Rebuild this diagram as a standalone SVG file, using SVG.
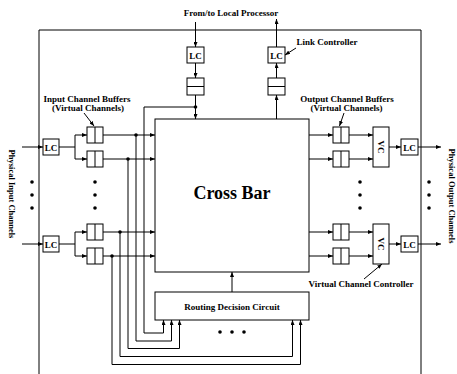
<svg xmlns="http://www.w3.org/2000/svg" width="457" height="374" viewBox="0 0 457 374">
<style>
text{font-family:"Liberation Serif","Times New Roman",serif;font-weight:bold;font-size:9px;fill:#000}
.m{text-anchor:middle}
.side{font-size:8.5px}
.box{fill:#fff;stroke:#000;stroke-width:1}
.ln{fill:none;stroke:#000;stroke-width:1}
.ar{fill:none;stroke:#000;stroke-width:1;marker-end:url(#ah)}
.dot{fill:#000}
</style>
<defs>
<marker id="ah" markerWidth="5" markerHeight="4" refX="5" refY="2" orient="auto" markerUnits="userSpaceOnUse"><path d="M0,0 L5,2 L0,4 z" fill="#000"/></marker>
</defs>
<rect width="457" height="374" fill="#fff"/>
<path id="router-frame" class="ln" d="M39,374 V30 H421 V374"/>

<g id="connectors">
<!-- local processor in -->
<line class="ar" x1="195.5" y1="22" x2="195.5" y2="47"/>
<line class="ar" x1="195.5" y1="63" x2="195.5" y2="78"/>
<line class="ar" x1="195.5" y1="95" x2="195.5" y2="119"/>
<path class="ar" d="M195.5,107 H144 V333 H163.5 V320"/>
<!-- local processor out -->
<line class="ar" x1="276.5" y1="119" x2="276.5" y2="95"/>
<line class="ar" x1="276.5" y1="78" x2="276.5" y2="63"/>
<line class="ar" x1="276.5" y1="47" x2="276.5" y2="19"/>
<!-- input group 1 -->
<line class="ar" x1="22" y1="147" x2="43" y2="147"/>
<path class="ln" d="M59,147 H75 M75,135 V159"/>
<line class="ar" x1="75" y1="135" x2="87" y2="135"/>
<line class="ar" x1="75" y1="159" x2="87" y2="159"/>
<line class="ar" x1="103" y1="135" x2="155" y2="135"/>
<line class="ar" x1="103" y1="159" x2="155" y2="159"/>
<path class="ar" d="M136,135 V341 H171.5 V320"/>
<path class="ar" d="M128,159 V348.5 H179.5 V320"/>
<!-- input group 2 -->
<line class="ar" x1="22" y1="244" x2="43" y2="244"/>
<path class="ln" d="M59,244 H75 M75,232 V256"/>
<line class="ar" x1="75" y1="232" x2="87" y2="232"/>
<line class="ar" x1="75" y1="256" x2="87" y2="256"/>
<line class="ar" x1="103" y1="232" x2="155" y2="232"/>
<line class="ar" x1="103" y1="256" x2="155" y2="256"/>
<path class="ar" d="M120,232 V356.5 H292.5 V320"/>
<path class="ar" d="M112,256 V364.5 H300.5 V320"/>
<!-- routing to crossbar -->
<line class="ar" x1="232" y1="292" x2="232" y2="272"/>
<!-- output group 1 -->
<line class="ar" x1="309" y1="135" x2="333" y2="135"/>
<line class="ar" x1="309" y1="159" x2="333" y2="159"/>
<line class="ar" x1="349" y1="135" x2="373" y2="135"/>
<line class="ar" x1="349" y1="159" x2="373" y2="159"/>
<line class="ar" x1="389" y1="147" x2="401" y2="147"/>
<line class="ar" x1="418" y1="147" x2="441" y2="147"/>
<!-- output group 2 -->
<line class="ar" x1="309" y1="232" x2="333" y2="232"/>
<line class="ar" x1="309" y1="256" x2="333" y2="256"/>
<line class="ar" x1="349" y1="232" x2="373" y2="232"/>
<line class="ar" x1="349" y1="256" x2="373" y2="256"/>
<line class="ar" x1="389" y1="244" x2="401" y2="244"/>
<line class="ar" x1="418" y1="244" x2="441" y2="244"/>
<!-- label pointers -->
<line class="ar" x1="296" y1="48" x2="285" y2="55"/>
<line class="ar" x1="84" y1="113" x2="94" y2="126"/>
<line class="ar" x1="344" y1="113" x2="339.5" y2="126"/>
<line class="ar" x1="364" y1="279" x2="382" y2="264"/>
<!-- junction dots -->
<circle class="dot" cx="195.5" cy="107" r="1.8"/>
<circle class="dot" cx="136" cy="135" r="1.8"/>
<circle class="dot" cx="128" cy="159" r="1.8"/>
<circle class="dot" cx="120" cy="232" r="1.8"/>
<circle class="dot" cx="112" cy="256" r="1.8"/>
</g>

<g id="crossbar"><rect class="box" x="155" y="119" width="154" height="153"/><text class="m" x="232" y="199" style="font-size:18px">Cross Bar</text></g>
<g id="routing-decision-circuit"><rect class="box" x="155" y="292" width="154" height="28"/><text class="m" x="232" y="309.5">Routing Decision Circuit</text></g>

<g id="lc-proc-in"><rect class="box" x="187" y="47" width="17" height="16"/><text class="m" x="195.5" y="58.5">LC</text></g>
<g id="buf-proc-in"><rect class="box" x="187" y="78" width="17" height="17"/><line class="ln" x1="187" y1="86.5" x2="204" y2="86.5"/></g>
<g id="lc-proc-out"><rect class="box" x="268" y="47" width="17" height="16"/><text class="m" x="276.5" y="58.5">LC</text></g>
<g id="buf-proc-out"><rect class="box" x="268" y="78" width="17" height="17"/><line class="ln" x1="268" y1="86.5" x2="285" y2="86.5"/></g>

<g id="lc-in-1"><rect class="box" x="43" y="139" width="16" height="16"/><text class="m" x="51" y="150.5">LC</text></g>
<g id="buf-in-1a"><rect class="box" x="87" y="127" width="16" height="16"/><line class="ln" x1="95" y1="127" x2="95" y2="143"/></g>
<g id="buf-in-1b"><rect class="box" x="87" y="151" width="16" height="16"/><line class="ln" x1="95" y1="151" x2="95" y2="167"/></g>
<g id="lc-in-2"><rect class="box" x="43" y="236" width="16" height="16"/><text class="m" x="51" y="247.5">LC</text></g>
<g id="buf-in-2a"><rect class="box" x="87" y="224" width="16" height="16"/><line class="ln" x1="95" y1="224" x2="95" y2="240"/></g>
<g id="buf-in-2b"><rect class="box" x="87" y="248" width="16" height="16"/><line class="ln" x1="95" y1="248" x2="95" y2="264"/></g>

<g id="buf-out-1a"><rect class="box" x="333" y="127" width="16" height="16"/><line class="ln" x1="341" y1="127" x2="341" y2="143"/></g>
<g id="buf-out-1b"><rect class="box" x="333" y="151" width="16" height="16"/><line class="ln" x1="341" y1="151" x2="341" y2="167"/></g>
<g id="vc-1"><rect class="box" x="373" y="127" width="16" height="40"/><text class="m" transform="translate(378,147) rotate(90)">VC</text></g>
<g id="lc-out-1"><rect class="box" x="401" y="139" width="17" height="16"/><text class="m" x="409.5" y="150.5">LC</text></g>
<g id="buf-out-2a"><rect class="box" x="333" y="224" width="16" height="16"/><line class="ln" x1="341" y1="224" x2="341" y2="240"/></g>
<g id="buf-out-2b"><rect class="box" x="333" y="248" width="16" height="16"/><line class="ln" x1="341" y1="248" x2="341" y2="264"/></g>
<g id="vc-2"><rect class="box" x="373" y="224" width="16" height="40"/><text class="m" transform="translate(378,244) rotate(90)">VC</text></g>
<g id="lc-out-2"><rect class="box" x="401" y="236" width="17" height="16"/><text class="m" x="409.5" y="247.5">LC</text></g>

<g id="ellipses">
<circle class="dot" cx="32" cy="182" r="1.8"/><circle class="dot" cx="32" cy="195" r="1.8"/><circle class="dot" cx="32" cy="208" r="1.8"/>
<circle class="dot" cx="95" cy="182" r="1.8"/><circle class="dot" cx="95" cy="195" r="1.8"/><circle class="dot" cx="95" cy="208" r="1.8"/>
<circle class="dot" cx="360" cy="182" r="1.8"/><circle class="dot" cx="360" cy="195" r="1.8"/><circle class="dot" cx="360" cy="208" r="1.8"/>
<circle class="dot" cx="429" cy="182" r="1.8"/><circle class="dot" cx="429" cy="195" r="1.8"/><circle class="dot" cx="429" cy="208" r="1.8"/>
<circle class="dot" cx="220" cy="332" r="1.8"/><circle class="dot" cx="232" cy="332" r="1.8"/><circle class="dot" cx="244" cy="332" r="1.8"/>
</g>

<g id="labels">
<text class="m" x="231" y="16">From/to Local Processor</text>
<text class="m" x="327" y="45">Link Controller</text>
<text class="m" x="87" y="102">Input Channel Buffers</text>
<text class="m" x="88" y="111">(Virtual Channels)</text>
<text class="m" x="347" y="102">Output Channel Buffers</text>
<text class="m" x="346.5" y="111">(Virtual Channels)</text>
<text class="m" x="361" y="286.5">Virtual Channel Controller</text>
<text class="m side" transform="translate(9,194) rotate(90)">Physical Input Channels</text>
<text class="m side" transform="translate(449,196) rotate(90)">Physical Output Channels</text>
</g>
</svg>
